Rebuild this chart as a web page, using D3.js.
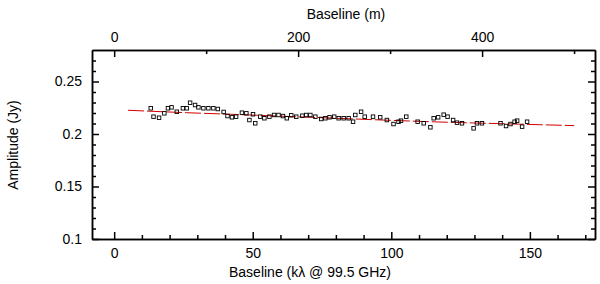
<!DOCTYPE html>
<html>
<head>
<meta charset="utf-8">
<script src="https://cdn.jsdelivr.net/npm/d3@7"></script>
<style>
  body { margin: 0; background: #fff; }
  text { font-family: "Liberation Sans", Arial, sans-serif; }
</style>
</head>
<body>
<div id="chart-area"></div>
<script>
// uv distance (kλ) and amplitude (Jy)
const uvDist = [13.2, 14.2, 16.2, 18.1, 19.4, 20.7, 22.6, 24.8, 26.2, 27.4, 29.2, 30.4, 32.2, 34.0, 35.8, 37.4,
    39.5, 40.9, 42.5, 44.0, 46.1, 47.7, 48.8, 50.1, 50.9, 52.7, 54.2, 56.0, 57.7, 59.3, 60.9, 62.3, 63.9, 65.7,
    67.9, 69.3, 70.8, 72.6, 74.7, 76.2, 77.7, 79.4, 81.0, 82.8, 84.6, 86.2, 87.0, 89.1, 90.4, 93.4, 96.0, 98.4,
    100.8, 102.6, 103.5, 105.4, 109.5, 111.7, 114.1, 115.3, 116.9, 118.9, 120.3, 122.3, 123.7, 125.5, 129.7,
    130.9, 132.7, 139.4, 141.4, 143.0, 144.5, 145.4, 147.2, 149.0];
const amplitude = [0.2245, 0.2165, 0.2155, 0.2197, 0.2245, 0.2254, 0.2212, 0.2245, 0.2245, 0.2298, 0.2276, 0.2254,
    0.2245, 0.2245, 0.2245, 0.2238, 0.2210, 0.2171, 0.2159, 0.2165, 0.2203, 0.2197, 0.2133, 0.2188, 0.2102, 0.2165,
    0.2150, 0.2165, 0.2181, 0.2181, 0.2171, 0.2150, 0.2178, 0.2165, 0.2174, 0.2181, 0.2181, 0.2165, 0.2143, 0.2150,
    0.2159, 0.2165, 0.2150, 0.2150, 0.2150, 0.2117, 0.2181, 0.2212, 0.2165, 0.2165, 0.2159, 0.2133, 0.2095, 0.2117,
    0.2127, 0.2165, 0.2117, 0.2102, 0.2064, 0.2150, 0.2159, 0.2184, 0.2165, 0.2133, 0.2108, 0.2102, 0.2054, 0.2102,
    0.2102, 0.2102, 0.2076, 0.2095, 0.2117, 0.2127, 0.2070, 0.2117];

// model curve
const modelDist = [5, 26, 42, 60, 80, 100, 114, 140, 166];
const modelAmp = [0.2226, 0.2203, 0.2188, 0.2170, 0.2150, 0.2130, 0.2117, 0.2098, 0.2080];

const xMajor = [0, 50, 100, 150];
const xMinor = [10, 20, 30, 40, 60, 70, 80, 90, 110, 120, 130, 140, 160, 170];
const mMajor = [0, 200, 400];
const mMinor = [100, 300, 500];
const yMajor = [0.1, 0.15, 0.2, 0.25];
const yMinor = [0.11, 0.12, 0.13, 0.14, 0.16, 0.17, 0.18, 0.19, 0.21, 0.22, 0.23, 0.24, 0.26, 0.27];

const W = 600, H = 284;
const BOX = { LEFT: 92, RIGHT: 595, TOP: 50, BOTTOM: 239 };
const M_PER_KL = 299792458 / 99.5e9 * 1000; // metres per kλ at 99.5 GHz

const svg = d3.select("#chart-area").append("svg")
    .attr("width", W)
    .attr("height", H);

const x = d3.scaleLinear().domain([-8, 173.5]).range([BOX.LEFT, BOX.RIGHT]);
const xm = d3.scaleLinear().domain(x.domain().map(d => d * M_PER_KL)).range([BOX.LEFT, BOX.RIGHT]);
const y = d3.scaleLinear().domain([0.1, 0.28]).range([BOX.BOTTOM, BOX.TOP]);

function drawAxis(axisFn, scale, major, minor, transform, labels, pad) {
    const gMaj = svg.append("g")
        .attr("transform", transform)
        .call(axisFn(scale).tickValues(major).tickSizeInner(-7).tickSizeOuter(0)
            .tickPadding(pad).tickFormat(labels ? (d => String(d)) : ""));
    const gMin = svg.append("g")
        .attr("transform", transform)
        .call(axisFn(scale).tickValues(minor).tickSizeInner(-4).tickSizeOuter(0).tickFormat(""));
    [gMaj, gMin].forEach(g => {
        g.selectAll("path, line").attr("stroke", "#000").attr("stroke-width", 1.5);
        g.selectAll("text").attr("font-family", "Liberation Sans, Arial, sans-serif")
            .attr("font-size", 14).attr("fill", "#000");
    });
}

drawAxis(d3.axisBottom, x, xMajor, xMinor, `translate(0,${BOX.BOTTOM})`, true, 9);
drawAxis(d3.axisTop, xm, mMajor, mMinor, `translate(0,${BOX.TOP})`, true, 8);
drawAxis(d3.axisLeft, y, yMajor, yMinor, `translate(${BOX.LEFT},0)`, true, 10);
drawAxis(d3.axisRight, y, yMajor, yMinor, `translate(${BOX.RIGHT},0)`, false, 0);

// model line
const line = d3.line().x(d => x(d[0])).y(d => y(d[1])).curve(d3.curveMonotoneX);
svg.append("path")
    .datum(modelDist.map((d, i) => [d, modelAmp[i]]))
    .attr("d", line)
    .attr("fill", "none")
    .attr("stroke", "#d40000")
    .attr("stroke-width", 1)
    .attr("stroke-dasharray", "16,3");

// data points
svg.selectAll("rect.pt")
    .data(uvDist.map((d, i) => [d, amplitude[i]]))
    .enter().append("rect")
    .attr("class", "pt")
    .attr("x", d => x(d[0]) - 1.75)
    .attr("y", d => y(d[1]) - 1.75)
    .attr("width", 3.5)
    .attr("height", 3.5)
    .attr("fill", "none")
    .attr("stroke", "#000")
    .attr("stroke-width", 0.9);

// titles
svg.append("text")
    .attr("x", 346).attr("y", 19)
    .attr("text-anchor", "middle")
    .attr("font-size", 14)
    .text("Baseline (m)");

svg.append("text")
    .attr("x", 310).attr("y", 277)
    .attr("text-anchor", "middle")
    .attr("font-size", 14)
    .text("Baseline (kλ @ 99.5 GHz)");

svg.append("text")
    .attr("transform", "translate(18,145) rotate(-90)")
    .attr("text-anchor", "middle")
    .attr("font-size", 14)
    .text("Amplitude (Jy)");
</script>
</body>
</html>
